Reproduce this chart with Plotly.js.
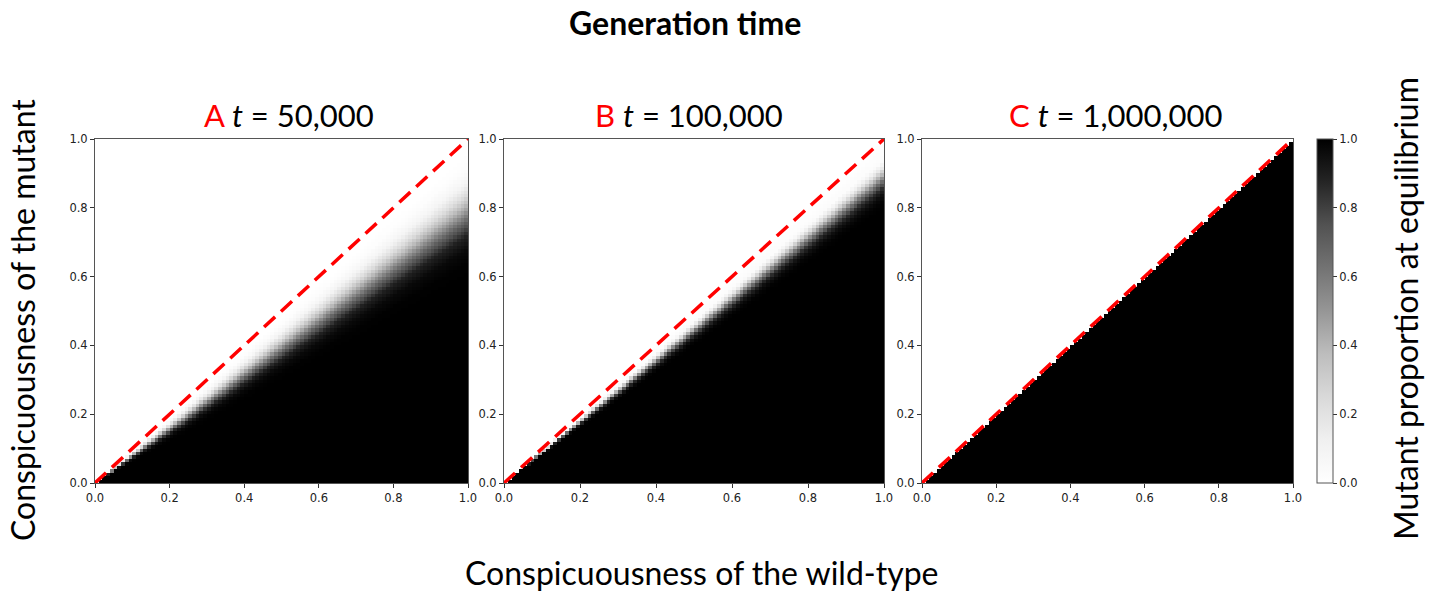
<!DOCTYPE html>
<html>
<head>
<meta charset="utf-8">
<script src="https://cdn.plot.ly/plotly-3.0.1.min.js"></script>
<style>
  html, body { margin: 0; padding: 0; background: #fff; }
  #chart { width: 1435px; height: 592px; }
</style>
</head>
<body>
<div id="chart"></div>
<script>
// ---- Data ----
// Grid resolution of each heatmap (cells per axis)
const gridSize = 100;

// Mutant proportion at equilibrium as a function of the ratio
// (mutant conspicuousness / wild-type conspicuousness).
const ratioA = [0.60, 0.64, 0.68, 0.72, 0.76, 0.80, 0.84, 0.88, 0.92, 0.96, 1.00];
const propA  = [1.00, 0.995, 0.97, 0.89, 0.70, 0.45, 0.23, 0.08, 0.02, 0.00, 0.00];

const ratioB = [0.80, 0.82, 0.84, 0.86, 0.88, 0.90, 0.92, 0.94, 1.00];
const propB  = [1.00, 0.99, 0.95, 0.85, 0.64, 0.38, 0.15, 0.03, 0.00];

const ratioC = [0.98, 0.99, 1.00];
const propC  = [1.00, 1.00, 0.00];

// Reference diagonal (mutant = wild-type)
const diagX = [0, 1];
const diagY = [0, 1];

// Panel labels
const panelLetters = ["A", "B", "C"];
const panelTimes = ["50,000", "100,000", "1,000,000"];

const tickVals = [0, 0.2, 0.4, 0.6, 0.8, 1.0];

// ---- Build heatmap tables ----
const centers = [];
for (let i = 0; i < gridSize; i++) centers.push((i + 0.5) / gridSize);

function profile(r, ratios, props) {
  if (r <= ratios[0]) return props[0];
  if (r >= ratios[ratios.length - 1]) return props[props.length - 1];
  for (let k = 0; k < ratios.length - 1; k++) {
    if (r >= ratios[k] && r <= ratios[k + 1]) {
      const f = (r - ratios[k]) / (ratios[k + 1] - ratios[k]);
      return props[k] + f * (props[k + 1] - props[k]);
    }
  }
  return 0;
}
function buildZ(ratios, props) {
  const z = [];
  for (let j = 0; j < gridSize; j++) {
    const row = [];
    for (let i = 0; i < gridSize; i++) row.push(profile(centers[j] / centers[i], ratios, props));
    z.push(row);
  }
  return z;
}

const greys = [
  [0.0, '#ffffff'], [0.125, '#f0f0f0'], [0.25, '#d9d9d9'], [0.375, '#bdbdbd'],
  [0.5, '#969696'], [0.625, '#737373'], [0.75, '#525252'], [0.875, '#252525'], [1.0, '#000000']
];

const W = 1435, H = 592;
const yTopPx = 139, yBotPx = 483;
const yDom = [(H - yBotPx) / H, (H - yTopPx) / H];
const xDoms = [[95 / W, 468 / W], [504 / W, 884 / W], [922 / W, 1293 / W]];

const zs = [buildZ(ratioA, propA), buildZ(ratioB, propB), buildZ(ratioC, propC)];

const tickFont = { family: 'DejaVu Sans', size: 11.5, color: '#222' };
const traces = [];
const axNames = ['', '2', '3'];
zs.forEach((z, k) => {
  const hm = {
    type: 'heatmap', x: centers, y: centers, z: z,
    xaxis: 'x' + axNames[k], yaxis: 'y' + axNames[k],
    zmin: 0, zmax: 1, colorscale: greys,
    showscale: k === 2, hoverinfo: 'skip'
  };
  if (k === 2) {
    hm.colorbar = {
      x: 1317 / W, xanchor: 'left', xref: 'paper',
      y: yDom[0], yanchor: 'bottom', len: yDom[1] - yDom[0], lenmode: 'fraction',
      thickness: 16, thicknessmode: 'pixels',
      outlinewidth: 1, outlinecolor: '#555',
      tickvals: tickVals, tickformat: '.1f', ticks: 'outside', ticklen: 4, tickcolor: '#333',
      tickfont: tickFont, xpad: 0, ypad: 0
    };
  }
  traces.push(hm);
  traces.push({
    type: 'scatter', mode: 'lines', x: diagX, y: diagY,
    xaxis: 'x' + axNames[k], yaxis: 'y' + axNames[k],
    line: { color: '#ff0000', width: 3.5, dash: '15px,8px' },
    hoverinfo: 'skip', showlegend: false
  });
});

function axis(dom, anchor) {
  return {
    domain: dom, anchor: anchor, range: [0, 1], tickvals: tickVals, tickformat: '.1f',
    ticks: 'outside', ticklen: 4, tickcolor: '#333', showline: true, linecolor: '#555',
    linewidth: 1, mirror: true, showgrid: false, zeroline: false,
    tickfont: tickFont, fixedrange: true
  };
}

const layout = {
  width: W, height: H, margin: { l: 0, r: 0, t: 0, b: 0 },
  paper_bgcolor: '#fff', plot_bgcolor: '#fff', showlegend: false,
  xaxis: axis(xDoms[0], 'y'), yaxis: axis(yDom, 'x'),
  xaxis2: axis(xDoms[1], 'y2'), yaxis2: axis(yDom, 'x2'),
  xaxis3: axis(xDoms[2], 'y3'), yaxis3: axis(yDom, 'x3'),
  annotations: []
};

const titleFont = 'Lato, "Open Sans", sans-serif';
layout.annotations.push({
  xref: 'paper', yref: 'paper', x: 685 / W, y: 1 - 23 / H, xanchor: 'center', yanchor: 'middle',
  text: '<b>Generation time</b>', showarrow: false,
  font: { family: titleFont, size: 32, color: '#000' }
});
const centersPx = [289, 689, 1115];
panelLetters.forEach((L, k) => {
  layout.annotations.push({
    xref: 'paper', yref: 'paper', x: centersPx[k] / W, y: 1 - 115 / H,
    xanchor: 'center', yanchor: 'middle', showarrow: false,
    text: '<span style="color:#ff0000">' + L + '</span> <i>t</i> = ' + panelTimes[k],
    font: { family: titleFont, size: 31, color: '#000' }
  });
});
layout.annotations.push({
  xref: 'paper', yref: 'paper', x: 702 / W, y: 1 - 572 / H, xanchor: 'center', yanchor: 'middle',
  text: 'Conspicuousness of the wild-type', showarrow: false,
  font: { family: titleFont, size: 32, color: '#000' }
});
layout.annotations.push({
  xref: 'paper', yref: 'paper', x: 22 / W, y: 1 - 320 / H, xanchor: 'center', yanchor: 'middle',
  text: 'Conspicuousness of the mutant', showarrow: false, textangle: -90,
  font: { family: titleFont, size: 32, color: '#000' }
});
layout.annotations.push({
  xref: 'paper', yref: 'paper', x: 1405 / W, y: 1 - 309 / H, xanchor: 'center', yanchor: 'middle',
  text: 'Mutant proportion at equilibrium', showarrow: false, textangle: -90,
  font: { family: titleFont, size: 32, color: '#000' }
});

Plotly.newPlot('chart', traces, layout, { staticPlot: true, displayModeBar: false });
</script>
</body>
</html>
